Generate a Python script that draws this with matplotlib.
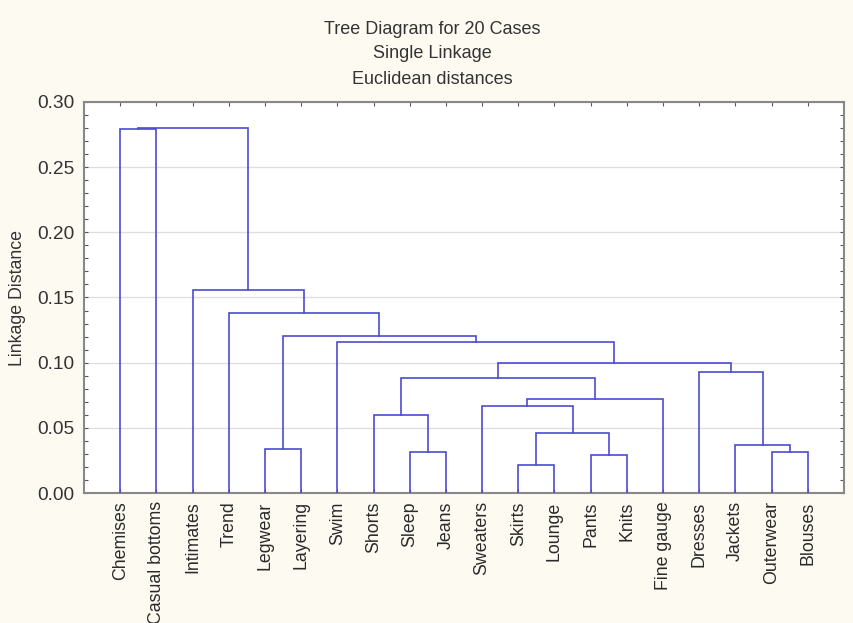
import matplotlib
matplotlib.use('Agg')
import matplotlib.pyplot as plt
from matplotlib.ticker import MultipleLocator, FixedLocator

plt.rcParams['font.family'] = ['Liberation Sans', 'DejaVu Sans']

# --- data ---
leaves = ["Chemises", "Casual bottoms", "Intimates", "Trend", "Legwear",
          "Layering", "Swim", "Shorts", "Sleep", "Jeans", "Sweaters",
          "Skirts", "Lounge", "Pants", "Knits", "Fine gauge", "Dresses",
          "Jackets", "Outerwear", "Blouses"]

# merge steps: ids 0..19 are leaves, each merge makes a new id (20, 21, ...)
merge_left = [11, 13, 8, 18, 4, 17, 20, 7, 10, 28, 27, 16, 30, 6, 24, 3, 2, 0, 37]
merge_right = [12, 14, 9, 19, 5, 23, 21, 22, 26, 15, 29, 25, 31, 32, 33, 34, 35, 1, 36]
merge_height = [0.0215, 0.029, 0.0315, 0.0317, 0.0338, 0.0368, 0.0463, 0.0599,
                0.0668, 0.0719, 0.088, 0.093, 0.0995, 0.116, 0.1205, 0.138,
                0.156, 0.279, 0.280]

title_lines = ["Tree Diagram for 20 Cases", "Single Linkage", "Euclidean distances"]

line_color = '#4b4bcf'

fig = plt.figure(figsize=(8.54, 6.23), dpi=100)
fig.patch.set_facecolor('#fdfbf1')
ax = fig.add_axes([84 / 854, 1 - 493 / 623, 760 / 854, 391 / 623])
ax.set_facecolor('white')

# positions / heights of nodes
pos = {i: i + 1 for i in range(len(leaves))}
hgt = {i: 0.0 for i in range(len(leaves))}
n = len(leaves)
for k, (a, b, h) in enumerate(zip(merge_left, merge_right, merge_height)):
    xa, xb = pos[a], pos[b]
    ax.plot([xa, xa, xb, xb], [hgt[a], h, h, hgt[b]], color=line_color,
            lw=1.2, solid_joinstyle='miter', zorder=3)
    pos[n + k] = (xa + xb) / 2
    hgt[n + k] = h

ax.set_xlim(0, n + 1)
ax.set_ylim(0, 0.30)
ax.xaxis.set_major_locator(FixedLocator(range(1, n + 1)))
ax.set_xticklabels(leaves, rotation=90, fontsize=12.8, color='#2a2a2a')
ax.yaxis.set_major_locator(MultipleLocator(0.05))
ax.yaxis.set_minor_locator(MultipleLocator(0.01))
ax.set_yticklabels([f"{v:.2f}" for v in ax.get_yticks()], fontsize=13.8, color='#333333')

ax.tick_params(axis='both', which='both', direction='in', top=True, right=True,
               color='#555555', length=3, width=0.8)
ax.tick_params(axis='y', which='major', pad=7)
ax.tick_params(axis='x', which='major', pad=6)

ax.grid(axis='y', which='major', color='#dddddd', lw=0.9, zorder=0)
ax.set_axisbelow(True)

for s in ax.spines.values():
    s.set_color('#888888')
    s.set_linewidth(1.5)

ax.set_ylabel("Linkage Distance", fontsize=12.8, color='#333333', labelpad=8)

for i, t in enumerate(title_lines):
    fig.text(432 / 854, 1 - (29 + 25 * i) / 623, t, ha='center', va='center',
             fontsize=13, color='#333333')

fig.savefig('out.png', dpi=100, facecolor=fig.get_facecolor())
